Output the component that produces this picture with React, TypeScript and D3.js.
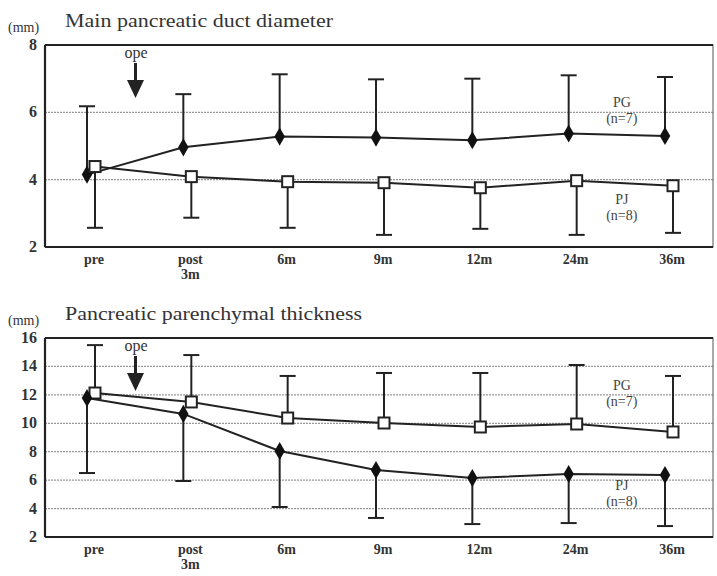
import React from 'react';
import * as d3 from 'd3';

// time points on the x axis
const categories = ['pre', 'post 3m', '6m', '9m', '12m', '24m', '36m'];

// Main pancreatic duct diameter (mm)
const ductPG = [4.15, 4.96, 5.28, 5.25, 5.17, 5.37, 5.3];
const ductPGUpper = [6.18, 6.54, 7.13, 6.98, 7.0, 7.1, 7.05];
const ductPJ = [4.39, 4.09, 3.94, 3.91, 3.76, 3.97, 3.82];
const ductPJLower = [2.57, 2.87, 2.57, 2.36, 2.54, 2.36, 2.42];
const ductTicks = [2, 4, 6, 8];
const ductGrid = [4, 6];

// Pancreatic parenchymal thickness (mm)
const thickPG = [12.13, 11.5, 10.37, 10.02, 9.74, 9.95, 9.39];
const thickPGUpper = [15.5, 14.8, 13.33, 13.54, 13.54, 14.1, 13.33];
const thickPJ = [11.78, 10.66, 8.05, 6.71, 6.15, 6.43, 6.36];
const thickPJLower = [6.5, 5.94, 4.11, 3.34, 2.91, 2.98, 2.77];
const thickTicks = [2, 4, 6, 8, 10, 12, 14, 16];
const thickGrid = [4, 6, 8, 10, 12, 14];

const FONT = "'Liberation Serif', 'Times New Roman', Times, serif";
const INK = '#222';

type Series = { values: number[]; bound: number[]; marker: 'diamond' | 'square'; dx: number };

function Panel(props: {
  top: number; bottom: number; domain: [number, number]; ticks: number[]; grid: number[];
  title: string; titleWidth: number; series: Series[];
  pgLabelY: number; pjLabelY: number;
}) {
  const { top, bottom, domain, ticks, grid, title, titleWidth, series } = props;
  const left = 45, right = 713;
  const x = d3.scalePoint<string>().domain(categories).range([91, 669]);
  const y = d3.scaleLinear().domain(domain).range([bottom, top]);
  const line = d3.line<[number, number]>().x(d => d[0]).y(d => d[1]);
  const diamond = d3.symbol(d3.symbolDiamond, 95)();
  const labelX = (x('24m')! + x('36m')!) / 2 + 1;

  return (
    <g style={{ fontFamily: FONT }}>
      <text x={8} y={top - 13} fontSize={14} fill="#333">(mm)</text>
      <text x={65} y={top - 18} fontSize={18} fill="#333"
        textLength={titleWidth} lengthAdjust="spacingAndGlyphs">{title}</text>
      {/* gridlines */}
      {grid.map(g => (
        <line key={g} x1={left} x2={right} y1={y(g)} y2={y(g)} stroke="#999" strokeWidth={1.2} strokeDasharray="2,1" />
      ))}
      {/* frame */}
      <rect x={left} y={top} width={right - left} height={bottom - top} fill="none" stroke="#555" strokeWidth={1} />
      <line x1={left} x2={right} y1={top} y2={top} stroke={INK} strokeWidth={2} />
      <line x1={left} x2={left} y1={top} y2={bottom} stroke={INK} strokeWidth={2.2} />
      <line x1={left} x2={right} y1={bottom} y2={bottom} stroke={INK} strokeWidth={2.2} />
      {ticks.map(t => (
        <text key={t} x={37} y={y(t) + 5} textAnchor="end" fontSize={16} fontWeight="bold" fill="#333">{t}</text>
      ))}
      {categories.map(c => {
        const parts = c.split(' ');
        return (
          <text key={c} x={x(c)! + 3} y={bottom + 17} textAnchor="middle" fontSize={14} fontWeight="bold" fill="#333">
            {parts.map((p, i) => <tspan key={p} x={x(c)! + 3} dy={i === 0 ? 0 : 15}>{p}</tspan>)}
          </text>
        );
      })}
      {/* ope arrow */}
      <text x={136} y={top + 13} textAnchor="middle" fontSize={16} fill="#333">ope</text>
      <line x1={135.5} x2={135.5} y1={top + 18} y2={top + 36} stroke={INK} strokeWidth={3} />
      <polygon points={`${127},${top + 35} ${144},${top + 35} ${135.5},${top + 53}`} fill={INK} />
      {/* error bars */}
      {series.map((s, si) => s.values.map((v, i) => {
        const cx = x(categories[i])! + s.dx;
        return (
          <g key={`e${si}-${i}`} stroke={INK} strokeWidth={2}>
            <line x1={cx} x2={cx} y1={y(v)} y2={y(s.bound[i])} />
            <line x1={cx - 8} x2={cx + 8} y1={y(s.bound[i])} y2={y(s.bound[i])} />
          </g>
        );
      }))}
      {/* lines */}
      {series.map((s, si) => (
        <path key={`l${si}`} d={line(s.values.map((v, i) => [x(categories[i])! + s.dx, y(v)]))!}
          fill="none" stroke={INK} strokeWidth={2} />
      ))}
      {/* markers */}
      {series.map((s, si) => s.values.map((v, i) => {
        const cx = x(categories[i])! + s.dx;
        return s.marker === 'diamond'
          ? <path key={`m${si}-${i}`} d={diamond!} transform={`translate(${cx},${y(v)})`} fill="#111" />
          : <rect key={`m${si}-${i}`} x={cx - 5.5} y={y(v) - 5.5} width={11} height={11} fill="#fff" stroke={INK} strokeWidth={2} />;
      }))}
      {/* group labels */}
      <text x={labelX} y={props.pgLabelY} textAnchor="middle" fontSize={14} fill="#444">
        <tspan x={labelX}>PG</tspan><tspan x={labelX} dy={16}>(n=7)</tspan>
      </text>
      <text x={labelX} y={props.pjLabelY} textAnchor="middle" fontSize={14} fill="#444">
        <tspan x={labelX}>PJ</tspan><tspan x={labelX} dy={16}>(n=8)</tspan>
      </text>
    </g>
  );
}

export default function App() {
  return (
    <svg width={717} height={576} style={{ position: 'absolute', left: 0, top: 0, background: '#fff' }}>
      <Panel top={45} bottom={247} domain={[2, 8]} ticks={ductTicks} grid={ductGrid}
        title="Main pancreatic duct diameter" titleWidth={268}
        series={[
          { values: ductPG, bound: ductPGUpper, marker: 'diamond', dx: -4 },
          { values: ductPJ, bound: ductPJLower, marker: 'square', dx: 4 },
        ]}
        pgLabelY={107} pjLabelY={204} />
      <Panel top={338} bottom={537} domain={[2, 16]} ticks={thickTicks} grid={thickGrid}
        title="Pancreatic parenchymal thickness" titleWidth={297}
        series={[
          { values: thickPG, bound: thickPGUpper, marker: 'square', dx: 4 },
          { values: thickPJ, bound: thickPJLower, marker: 'diamond', dx: -4 },
        ]}
        pgLabelY={390} pjLabelY={490} />
    </svg>
  );
}
